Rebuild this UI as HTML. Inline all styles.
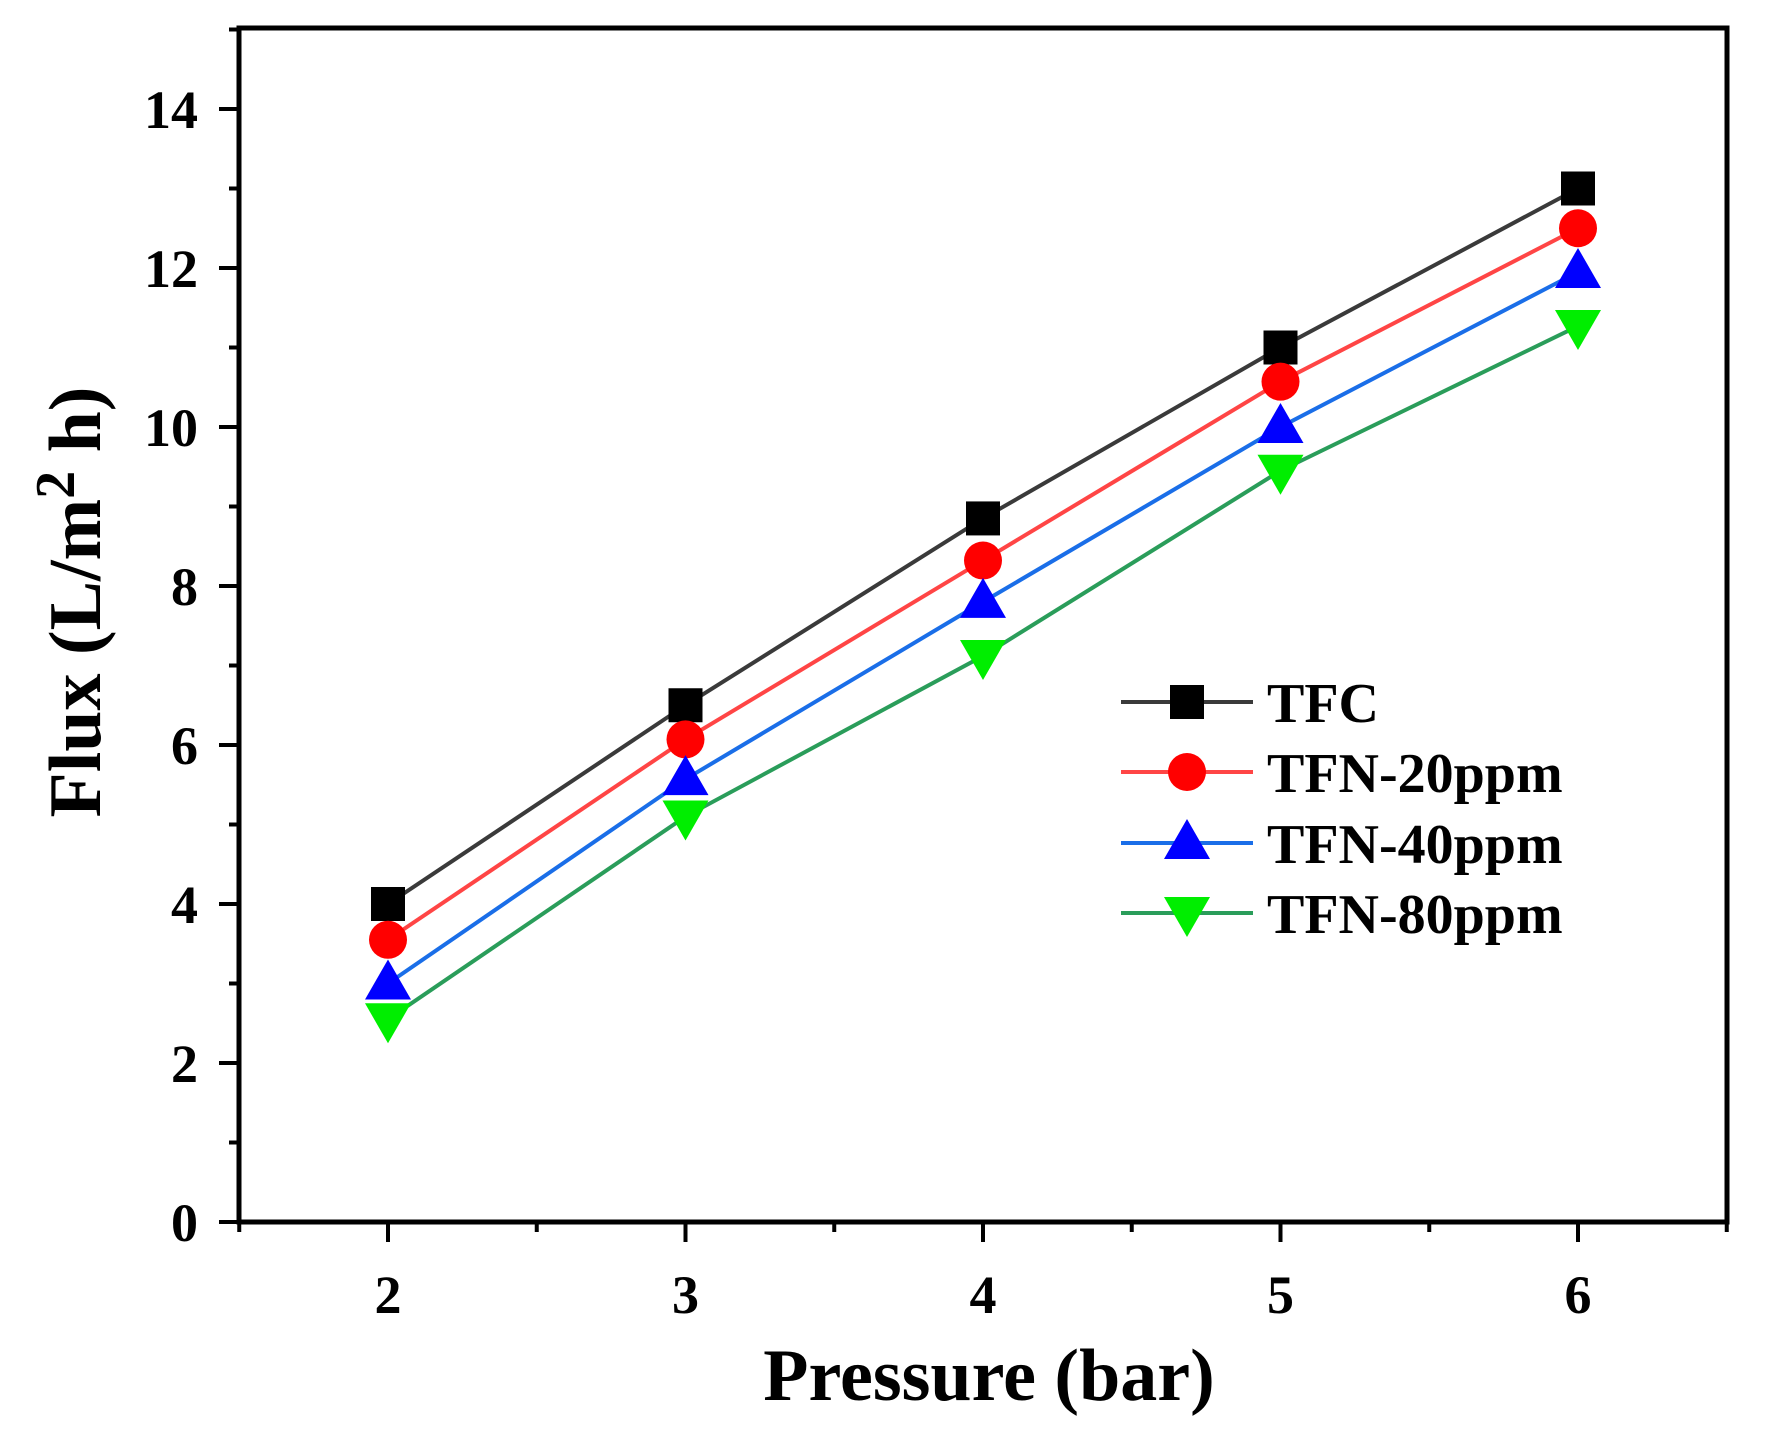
<!DOCTYPE html>
<html><head><style>html,body{margin:0;padding:0;background:#fff;}svg{display:block;}</style></head>
<body>
<svg width="1771" height="1439" viewBox="0 0 1771 1439" xmlns="http://www.w3.org/2000/svg" font-family="'Liberation Serif', serif" font-weight="bold">
<rect width="1771" height="1439" fill="#fff"/>
<g id="plot"></g>
<text x="989" y="1400" text-anchor="middle" font-size="74">Pressure (bar)</text>
<text transform="translate(100,602) rotate(-90)" text-anchor="middle" font-size="74">Flux (L/m<tspan dy="-26" font-size="56">2</tspan><tspan dy="26"> h)</tspan></text>
<script>
(function(){
var ns="http://www.w3.org/2000/svg",g=document.getElementById("plot");
function X(v){return 388+(v-2)*297.5;}
function Y(v){return 1222-v*79.5;}
function el(t,a,txt){var e=document.createElementNS(ns,t);for(var k in a)e.setAttribute(k,a[k]);if(txt!==undefined)e.textContent=txt;g.appendChild(e);return e;}
for(var v=0;v<=15;v++){var maj=v%2==0;el("line",{x1:239-(maj?20:10),x2:239,y1:Y(v),y2:Y(v),stroke:"#000","stroke-width":4});
 if(maj&&v<=14)el("text",{x:198,y:Y(v)+19,"text-anchor":"end","font-size":54},String(v));}
for(var x=1.5;x<=6.5;x+=0.5){var maj=(x%1==0);el("line",{x1:X(x),x2:X(x),y1:1222,y2:1222+(maj?20:10),stroke:"#000","stroke-width":4});
 if(maj)el("text",{x:X(x),y:1313,"text-anchor":"middle","font-size":54},String(x));}
el("rect",{x:239,y:28,width:1488,height:1194,fill:"none",stroke:"#000","stroke-width":5});
var S=[
 {d:[4,6.5,8.85,11,13],lc:"#3a3a3a",mc:"#000",m:"sq",n:"TFC"},
 {d:[3.55,6.07,8.32,10.57,12.5],lc:"#ff4545",mc:"#ff0000",m:"ci",n:"TFN-20ppm"},
 {d:[3.0,5.57,7.8,10.0,11.95],lc:"#1a6ee8",mc:"#0000ff",m:"tu",n:"TFN-40ppm"},
 {d:[2.55,5.1,7.12,9.45,11.27],lc:"#2a9d5a",mc:"#00ee00",m:"td",n:"TFN-80ppm"}];
function mk(m,cx,cy,c){
 if(m=="sq")el("rect",{x:cx-17,y:cy-17,width:34,height:34,fill:c});
 else if(m=="ci")el("circle",{cx:cx,cy:cy,r:19,fill:c});
 else if(m=="tu")el("polygon",{points:(cx-23)+","+(cy+16)+" "+(cx+23)+","+(cy+16)+" "+cx+","+(cy-24),fill:c});
 else el("polygon",{points:(cx-23)+","+(cy-16)+" "+(cx+23)+","+(cy-16)+" "+cx+","+(cy+24),fill:c});}
S.forEach(function(s,i){
 var p=s.d.map(function(v,j){return X(j+2)+","+Y(v);}).join(" ");
 el("polyline",{points:p,fill:"none",stroke:s.lc,"stroke-width":4});
 s.d.forEach(function(v,j){mk(s.m,X(j+2),Y(v),s.mc);});
 var ly=[702,772,843,913][i];
 el("line",{x1:1121,x2:1253,y1:ly,y2:ly,stroke:s.lc,"stroke-width":4});
 mk(s.m,1187,ly,s.mc);
 el("text",{x:1267,y:ly+20,"font-size":56},s.n);
});
})();
</script>
</svg>
</body></html>
